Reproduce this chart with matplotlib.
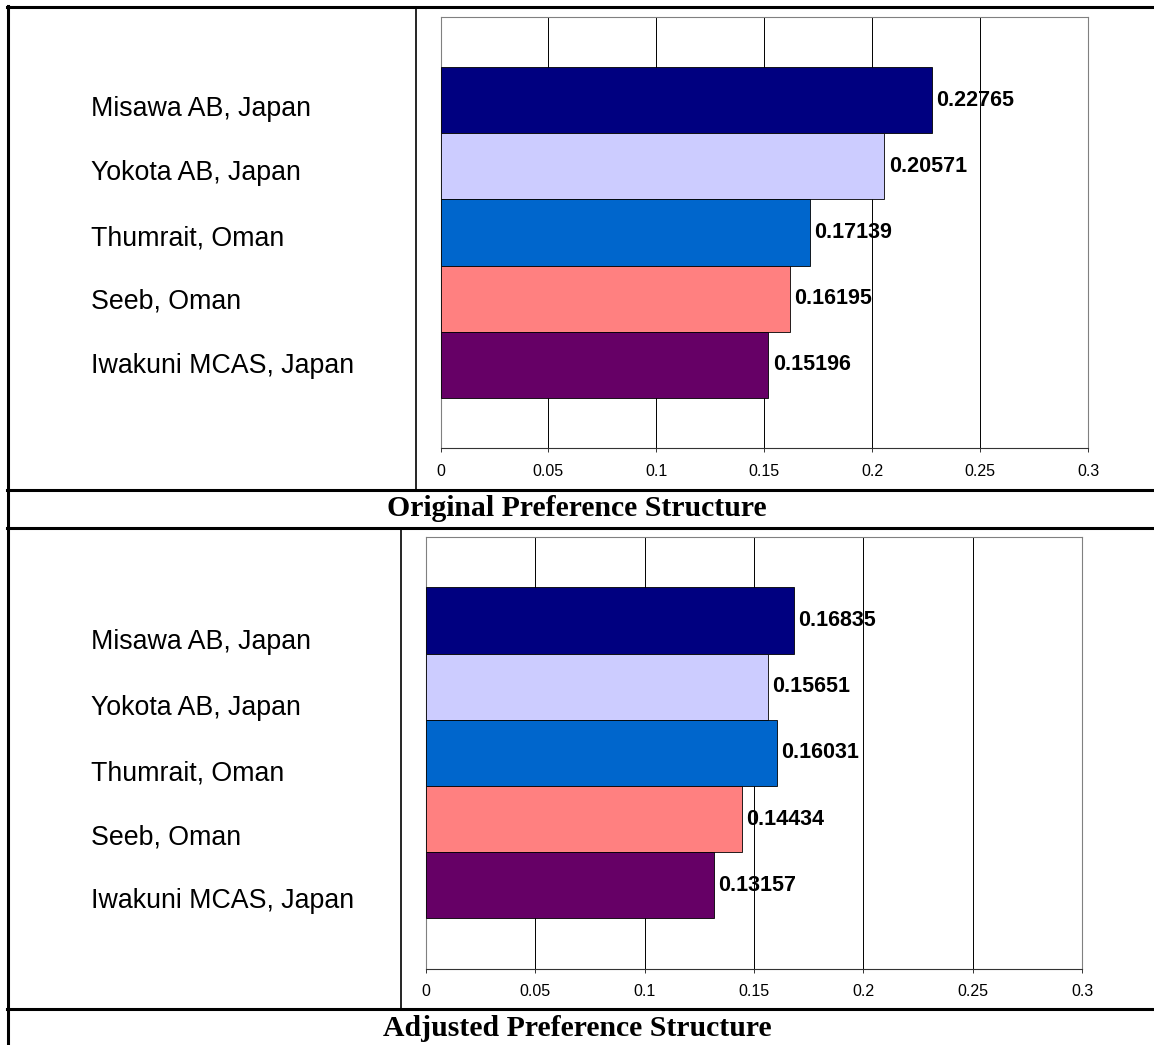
import matplotlib
matplotlib.use('Agg')
import matplotlib.pyplot as plt
from matplotlib.lines import Line2D

# sites, top to bottom
sites = ['Misawa AB, Japan', 'Yokota AB, Japan', 'Thumrait, Oman',
         'Seeb, Oman', 'Iwakuni MCAS, Japan']
original = [0.22765, 0.20571, 0.17139, 0.16195, 0.15196]
adjusted = [0.16835, 0.15651, 0.16031, 0.14434, 0.13157]
captions = ['Original Preference Structure', 'Adjusted Preference Structure']
xticks = [0, 0.05, 0.1, 0.15, 0.2, 0.25, 0.3]
xtick_labels = ['0', '0.05', '0.1', '0.15', '0.2', '0.25', '0.3']
colors = ['#000080', '#CCCCFF', '#0066CC', '#FF8080', '#660066']

W, H = 1154, 1045
fig = plt.figure(figsize=(W / 100, H / 100), dpi=100)

NARROW = ['Liberation Sans Narrow', 'Liberation Sans', 'DejaVu Sans']


def fx(px):
    return px / W


def fy(py):
    return 1 - py / H


def hline(y, x0, x1, lw):
    fig.add_artist(Line2D([fx(x0), fx(x1)], [fy(y), fy(y)], color='black',
                          lw=lw, transform=fig.transFigure))


def vline(x, y0, y1, lw):
    fig.add_artist(Line2D([fx(x), fx(x)], [fy(y0), fy(y1)], color='black',
                          lw=lw, transform=fig.transFigure))


def bar_panel(rect, values, label_y):
    """One Excel-like bar chart with the site names on the left."""
    l, t, r, b = rect
    ax = fig.add_axes([fx(l), fy(b), fx(r) - fx(l), (b - t) / H])
    pos = list(range(len(values)))
    ax.barh(pos, values, height=1.0, color=colors, edgecolor='black',
            linewidth=0.6, zorder=3)
    ax.set_xlim(0, 0.3)
    ax.set_ylim(len(values) - 0.5 + 0.765, -0.5 - 0.765)
    ax.set_xticks(xticks)
    ax.set_xticklabels(xtick_labels, fontfamily=NARROW, fontsize=11.5)
    ax.set_yticks([])
    ax.grid(axis='x', color='black', lw=0.7, zorder=0)
    ax.tick_params(axis='x', direction='out', length=3, width=0.7,
                   color='#333333', pad=8)
    for s in ['top', 'right', 'left']:
        ax.spines[s].set_color('#808080')
        ax.spines[s].set_linewidth(0.8)
    ax.spines['bottom'].set_color('#333333')
    ax.spines['bottom'].set_linewidth(0.8)
    for i, v in enumerate(values):
        ax.annotate(f'{v:.5f}', (v, i), xytext=(3, 0),
                    textcoords='offset points', va='center', ha='left',
                    fontfamily=NARROW, fontweight='bold', fontsize=15.5)
    for name, y in zip(sites, label_y):
        fig.text(fx(91), fy(y), name, fontfamily='Liberation Sans',
                 fontsize=19.3, va='center', ha='left')
    return ax


bar_panel((440.5, 16.7, 1088, 448.3), original, [108.5, 172.5, 238.5, 302, 366])
bar_panel((425.7, 536.7, 1082.3, 969), adjusted, [642, 708, 773, 837, 901])

# table frame
hline(7.3, 7, W, 2.2)
hline(490, 7, W, 2.2)
hline(527.5, 7, W, 2.2)
hline(1009, 7, W, 2.2)
vline(8, 6, H, 2.2)
vline(415.7, 7, 490, 1.2)
vline(400.7, 527.5, 1009, 1.2)

for cap, y in zip(captions, [508.5, 1028]):
    fig.text(fx(577), fy(y), cap, fontfamily='Liberation Serif',
             fontweight='bold', fontsize=21.4, ha='center', va='center')

fig.savefig('out.png', dpi=100)
